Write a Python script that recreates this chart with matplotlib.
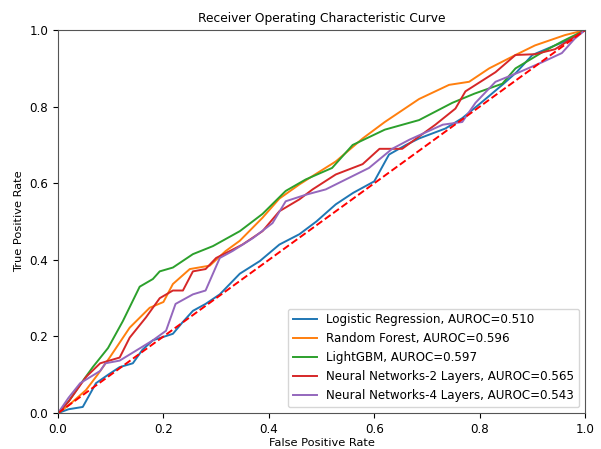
import numpy as np
import matplotlib
matplotlib.use("Agg")
import matplotlib.pyplot as plt

# =========================
# ROC data
# =========================
lr_fpr = [0.0, 0.02, 0.047, 0.072, 0.095, 0.117, 0.142, 0.16, 0.18, 0.218, 0.235, 0.256,
          0.28, 0.307, 0.345, 0.383, 0.42, 0.458, 0.49, 0.527, 0.56, 0.60, 0.628, 0.66,
          0.685, 0.735, 0.767, 0.805, 0.843, 0.87, 0.90, 0.943, 0.97, 1.0]
lr_tpr = [0.0, 0.01, 0.016, 0.078, 0.10, 0.12, 0.13, 0.165, 0.19, 0.207, 0.235, 0.267,
          0.285, 0.31, 0.364, 0.397, 0.44, 0.467, 0.50, 0.545, 0.575, 0.605, 0.675, 0.70,
          0.717, 0.743, 0.77, 0.813, 0.857, 0.89, 0.935, 0.96, 0.975, 1.0]

rf_fpr = [0.0, 0.02, 0.053, 0.075, 0.098, 0.136, 0.174, 0.2, 0.218, 0.25, 0.288, 0.318,
          0.345, 0.388, 0.42, 0.458, 0.49, 0.527, 0.578, 0.62, 0.685, 0.742, 0.78, 0.818,
          0.868, 0.905, 0.962, 1.0]
rf_tpr = [0.0, 0.02, 0.06, 0.10, 0.145, 0.223, 0.275, 0.29, 0.337, 0.376, 0.385, 0.423,
          0.45, 0.51, 0.56, 0.597, 0.625, 0.657, 0.717, 0.76, 0.82, 0.857, 0.865, 0.90,
          0.935, 0.96, 0.987, 1.0]

lgb_fpr = [0.0, 0.02, 0.045, 0.066, 0.095, 0.123, 0.155, 0.18, 0.193, 0.218, 0.256, 0.294,
           0.345, 0.388, 0.432, 0.47, 0.52, 0.559, 0.62, 0.685, 0.748, 0.79, 0.843, 0.868,
           0.92, 0.956, 1.0]
lgb_tpr = [0.0, 0.03, 0.08, 0.12, 0.17, 0.24, 0.33, 0.35, 0.37, 0.38, 0.415, 0.436,
           0.475, 0.52, 0.58, 0.61, 0.64, 0.70, 0.74, 0.765, 0.81, 0.834, 0.86, 0.90,
           0.943, 0.97, 1.0]

nn2_fpr = [0.0, 0.02, 0.053, 0.08, 0.117, 0.136, 0.167, 0.193, 0.218, 0.237, 0.256, 0.28,
           0.30, 0.326, 0.35, 0.388, 0.42, 0.458, 0.483, 0.527, 0.578, 0.61, 0.653, 0.716,
           0.754, 0.773, 0.83, 0.868, 0.905, 0.943, 1.0]
nn2_tpr = [0.0, 0.03, 0.094, 0.13, 0.145, 0.197, 0.25, 0.30, 0.32, 0.32, 0.37, 0.376,
           0.405, 0.423, 0.44, 0.475, 0.527, 0.558, 0.584, 0.623, 0.65, 0.69, 0.69, 0.753,
           0.795, 0.84, 0.89, 0.935, 0.937, 0.95, 1.0]

nn4_fpr = [0.0, 0.02, 0.042, 0.08, 0.09, 0.117, 0.148, 0.18, 0.205, 0.223, 0.256, 0.28,
           0.307, 0.331, 0.37, 0.407, 0.432, 0.47, 0.508, 0.527, 0.59, 0.634, 0.667, 0.73,
           0.767, 0.792, 0.83, 0.875, 0.92, 0.956, 0.98, 1.0]
nn4_tpr = [0.0, 0.04, 0.078, 0.11, 0.13, 0.137, 0.163, 0.19, 0.215, 0.285, 0.31, 0.32,
           0.405, 0.423, 0.457, 0.496, 0.553, 0.57, 0.584, 0.597, 0.64, 0.69, 0.714, 0.753,
           0.76, 0.81, 0.865, 0.89, 0.917, 0.94, 0.977, 1.0]

labels = ["Logistic Regression, AUROC=0.510",
          "Random Forest, AUROC=0.596",
          "LightGBM, AUROC=0.597",
          "Neural Networks-2 Layers, AUROC=0.565",
          "Neural Networks-4 Layers, AUROC=0.543"]

curves = [(lr_fpr, lr_tpr), (rf_fpr, rf_tpr), (lgb_fpr, lgb_tpr),
          (nn2_fpr, nn2_tpr), (nn4_fpr, nn4_tpr)]

# =========================
# Plot
# =========================
plt.rcParams["font.size"] = 8.4
plt.rcParams["axes.edgecolor"] = "#555555"

fig = plt.figure(figsize=(6.01, 4.49), dpi=100)
ax = fig.add_axes([0.0965, 0.08, 0.877, 0.853])

for (fpr, tpr), lab in zip(curves, labels):
    ax.plot(fpr, tpr, lw=1.4, label=lab)

ax.plot([0, 1], [0, 1], "r--", lw=1.4)

ax.set_xlim(0, 1)
ax.set_ylim(0, 1)
ax.set_title("Receiver Operating Characteristic Curve", fontsize=8.8)
ax.set_xlabel("False Positive Rate", fontsize=8.2, labelpad=1.5)
ax.set_ylabel("True Positive Rate", fontsize=8.2)
ax.tick_params(labelsize=8.6)
ax.legend(loc="lower right", fontsize=8.6)

fig.savefig("out.png", dpi=100)
